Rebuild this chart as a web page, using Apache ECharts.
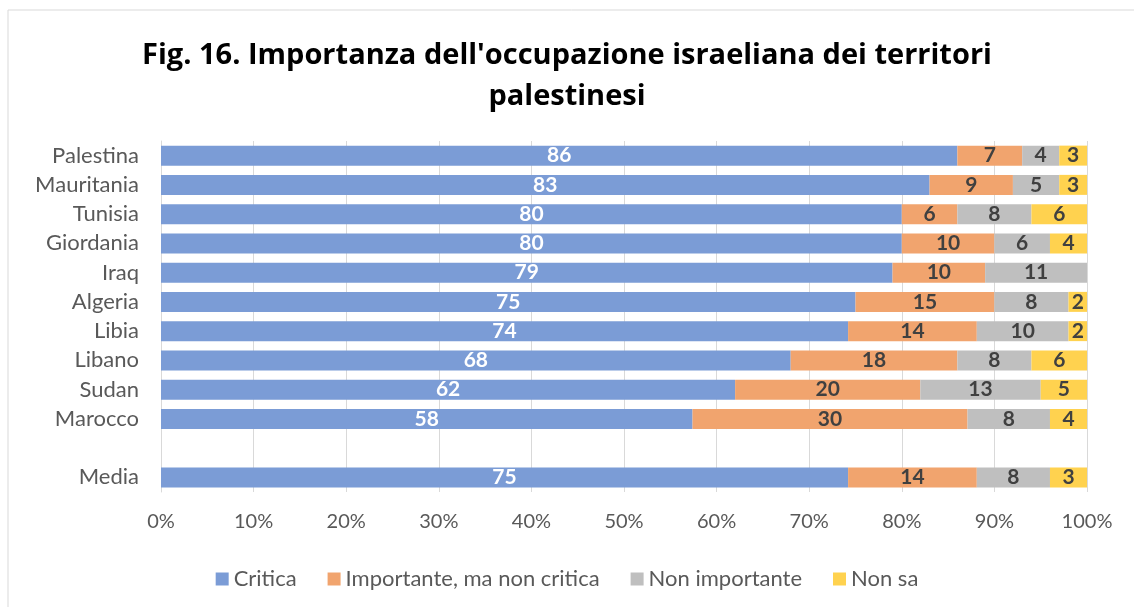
<!DOCTYPE html>
<html>
<head>
<meta charset="utf-8">
<script src="https://cdn.jsdelivr.net/npm/echarts@6/dist/echarts.min.js"></script>
<style>
html, body { margin: 0; padding: 0; background: #fff; }
#main { width: 1134px; height: 607px; }
</style>
</head>
<body>
<div id="main"></div>
<script>
// categorie (dall'alto in basso), riga vuota prima della media
var paesi = ['Palestina', 'Mauritania', 'Tunisia', 'Giordania', 'Iraq', 'Algeria', 'Libia', 'Libano', 'Sudan', 'Marocco', '', 'Media'];
var serie = ['Critica', 'Importante, ma non critica', 'Non importante', 'Non sa'];

var critica       = [86, 83, 80, 80, 79, 75, 74.2, 68, 62, 57.4, '-', 74.2];
var importante    = [7, 9, 6, 10, 10, 15, 13.9, 18, 20, 29.7, '-', 13.9];
var nonImportante = [4, 5, 8, 6, 11, 8, 9.9, 8, 13, 8.9, '-', 7.9];
var nonSa         = [3, 3, 6, 4, 0, 2, 2, 6, 5, 4, '-', 4];

// etichette come stampate sul grafico
var etCritica       = [86, 83, 80, 80, 79, 75, 74, 68, 62, 58, '', 75];
var etImportante    = [7, 9, 6, 10, 10, 15, 14, 18, 20, 30, '', 14];
var etNonImportante = [4, 5, 8, 6, 11, 8, 10, 8, 13, 8, '', 8];
var etNonSa         = [3, 3, 6, 4, '', 2, 2, 6, 5, 4, '', 3];

var colori = ['#7b9cd6', '#f1a46e', '#bfbfbf', '#ffd24f'];
var font = 'Lato';

function serieBar(nome, dati, etichette, col, coloreTesto) {
    return {
        name: nome,
        type: 'bar',
        stack: 'tot',
        barWidth: 20,
        data: dati,
        itemStyle: { color: col },
        label: {
            show: true,
            position: 'inside',
            fontFamily: font,
            fontWeight: 'bold',
            fontSize: 21,
            color: coloreTesto,
            formatter: function (p) { return etichette[p.dataIndex]; }
        }
    };
}

var myChart = echarts.init(document.getElementById('main'));
option = {
    animation: false,
    backgroundColor: '#fff',
    color: colori,
    title: {
        text: "Fig. 16. Importanza dell'occupazione israeliana dei territori\npalestinesi",
        left: 'center',
        top: 30,
        textStyle: {
            fontFamily: 'Open Sans',
            fontWeight: 'bold',
            fontSize: 29,
            lineHeight: 41,
            color: '#000'
        }
    },
    graphic: [{
        type: 'rect',
        shape: { x: 8, y: 10, width: 1200, height: 700 },
        style: { fill: 'none', stroke: '#d9d9d9', lineWidth: 1 },
        silent: true
    }],
    legend: {
        top: 563,
        left: 'center',
        itemWidth: 13,
        itemHeight: 13,
        itemGap: 31,
        icon: 'rect',
        data: serie,
        textStyle: { fontFamily: font, fontSize: 22, color: '#595959' }
    },
    grid: {
        left: 161,
        right: 47,
        top: 141,
        bottom: 115
    },
    xAxis: {
        type: 'value',
        min: 0,
        max: 100,
        interval: 10,
        axisLine: { show: false },
        axisTick: { show: false },
        splitLine: { lineStyle: { color: '#d9d9d9', width: 1 } },
        axisLabel: {
            formatter: '{value}%',
            margin: 20,
            fontFamily: font,
            fontSize: 20,
            color: '#595959'
        }
    },
    yAxis: {
        type: 'category',
        inverse: true,
        data: paesi,
        axisLine: { show: true, lineStyle: { color: '#d9d9d9' } },
        axisTick: { show: false },
        axisLabel: {
            interval: 0,
            margin: 22,
            fontFamily: font,
            fontSize: 22,
            color: '#595959'
        }
    },
    series: [
        serieBar(serie[0], critica, etCritica, colori[0], '#fff'),
        serieBar(serie[1], importante, etImportante, colori[1], '#404040'),
        serieBar(serie[2], nonImportante, etNonImportante, colori[2], '#404040'),
        serieBar(serie[3], nonSa, etNonSa, colori[3], '#404040')
    ]
};
myChart.setOption(option);
</script>
</body>
</html>
